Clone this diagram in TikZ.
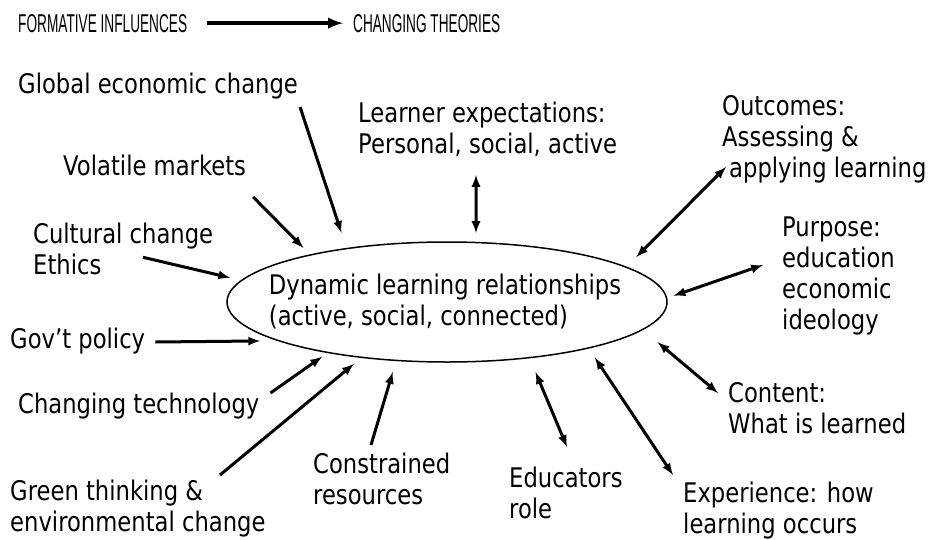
\documentclass[tikz,border=0pt]{standalone}
\usepackage{fontspec}
\setmainfont{DejaVu Sans}[FakeStretch=0.84]
\newfontfamily\titlefont{Liberation Sans}
\usepackage{tikz}
\usetikzlibrary{positioning,arrows,shapes}
\newcommand{\squeezed}[2]{\resizebox{#1}{18pt}{#2}}
\tikzset{
factor/.style={inner sep=0pt, font=\fontsize{27}{31}\selectfont},
factors/.style={factor, align=left},
heading/.style={inner sep=0pt, font=\titlefont\fontsize{25}{30}\selectfont},
hub/.style={ellipse, draw, line width=1.5pt, outer sep=0pt, minimum width=440pt, minimum height=120pt},
infl/.style={-latex, line width=3pt},
link/.style={latex-latex, line width=3pt}
}

\begin{document}
\begin{tikzpicture}[x=1pt,y=-1pt]
   \useasboundingbox (0,0) rectangle (932,539);
   \node[heading, anchor=base west] (form) at (18,32) {\squeezed{169pt}{FORMATIVE INFLUENCES}};
   \node[heading, anchor=base west] (chth) at (353,32) {\squeezed{147pt}{CHANGING THEORIES}};
   \draw[-latex, line width=4pt, shorten <=20pt, shorten >=10pt] (form.east) -- (chth.west);

   \node[hub] (dlr) at (447,302) {};
   \node[factors] (dlrtext) at ([xshift=-2pt]dlr.center) {Dynamic learning relationships\\(active, social, connected)};

   \node[factor, anchor=base west] (glob) at (18,93) {Global economic change};
   \node[factor, anchor=base west] (vol) at (63,175) {Volatile markets};
   \node[factors, anchor=north west] (cult) at (33,223) {Cultural change\\Ethics};
   \node[factor, anchor=base west] (gov) at (10,348) {Gov’t policy};
   \node[factor, anchor=base west] (tech) at (18,413) {Changing technology};
   \node[factors, anchor=north west] (green) at (10,480) {Green thinking \&\\environmental change};
   \node[factors, anchor=north west] (cons) at (313,453) {Constrained\\resources};

   \node[factors, anchor=north west] (lexp) at (358,102) {Learner expectations:\\Personal, social, active};
   \node[factors, anchor=north west] (outc) at (722,95) {Outcomes:\\Assessing \&\\\hspace*{7pt}applying learning};
   \node[factors, anchor=north west] (purp) at (782,217) {Purpose:\\education\\economic\\ideology};
   \node[factors, anchor=north west] (cont) at (728,382) {Content:\\What is learned};
   \node[factors, anchor=north west] (exp) at (683,482) {Experience: how\\learning occurs};
   \node[factors, anchor=north west] (edu) at (509,467) {Educators\\role};

   \draw[infl, shorten >=16.6pt] ([shift={(2,14)}]glob.base east) -- (dlr.152.5);
   \draw[infl, shorten >=9.9pt] ([shift={(7,22)}]vol.base east) -- (dlr.161.4);
   \draw[infl, shorten >=11.8pt] ([shift={(110,-18)}]cult.south west) -- (dlr.174.8);
   \draw[infl, shorten >=19pt] ([shift={(10,-6)}]gov.base east) -- (dlr.193.7);
   \draw[infl, shorten >=7.3pt] ([shift={(11,-20)}]tech.base east) -- (dlr.203.5);
   \draw[infl, shorten >=10.3pt] ([shift={(210,-5)}]green.north west) -- (dlr.213.5);
   \draw[infl, shorten >=12.1pt] ([shift={(58,-8)}]cons.north west) -- (dlr.229.2);

   \draw[link, shorten >=9.5pt] ([shift={(118,73)}]lexp.north west) -- (dlr.64);
   \draw[link, shorten >=14.3pt] ([shift={(4,72)}]outc.north west) -- (dlr.11);
   \draw[link, shorten >=7.4pt] ([shift={(-19,48)}]purp.north west) -- (dlr.1.5);
   \draw[link, shorten >=19.7pt] ([shift={(-10,11)}]cont.north west) -- (dlr.352.1);
   \draw[link, shorten >=11.6pt] ([shift={(-10,-7)}]exp.north west) -- (dlr.342.7);
   \draw[link, shorten >=15.7pt] ([shift={(58,-20)}]edu.north west) -- (dlr.326.7);
\end{tikzpicture}
\end{document}
